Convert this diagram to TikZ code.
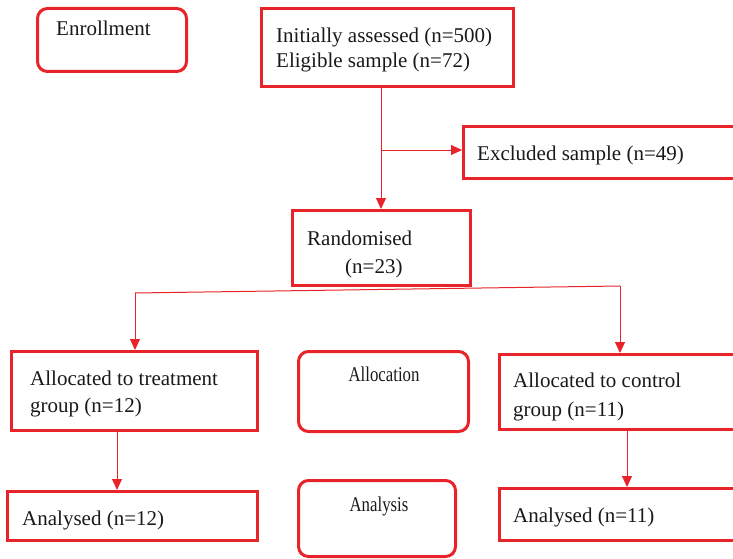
\documentclass[tikz,border=0pt]{standalone}
\usepackage{fontspec}
\setmainfont{Liberation Serif}
\newfontfamily\narrowfont{Liberation Serif}[FakeStretch=0.8]
\usetikzlibrary{arrows.meta}
\definecolor{flowred}{RGB}{232,36,42}
\tikzset{
	box/.style={draw=flowred, line width=3pt, inner sep=0pt},
	roundbox/.style={box, rounded corners=10pt},
	txt/.style={anchor=base west, inner sep=0pt, text=black!90, font=\fontsize{21}{25}\selectfont},
	midtxt/.style={txt, anchor=base, font=\narrowfont\fontsize{21}{25}\selectfont},
	conn/.style={draw=flowred, line width=1pt, -{Triangle[length=11pt,width=10pt]}},
}

\begin{document}
\begin{tikzpicture}[x=1pt, y=-1pt]
	\useasboundingbox (0,0) rectangle (733,559);
	% boxes
	\node[roundbox, minimum width=149pt, minimum height=63pt] (enroll) at (112,40) {};
	\node[box, minimum width=252pt, minimum height=78pt] (assess) at (387.5,47.5) {};
	\node[box, minimum width=277pt, minimum height=52pt] (excl) at (602,152.5) {};
	\node[box, minimum width=178pt, minimum height=75pt] (rand) at (381.5,248) {};
	\node[box, minimum width=246pt, minimum height=79pt] (treat) at (134.5,391) {};
	\node[roundbox, minimum width=170pt, minimum height=80pt] (alloc) at (383.5,391.5) {};
	\node[box, minimum width=241pt, minimum height=75pt] (ctrl) at (620,392) {};
	\node[box, minimum width=250pt, minimum height=49pt] (anaT) at (132.5,516) {};
	\node[roundbox, minimum width=157pt, minimum height=76pt] (anlys) at (377,518.5) {};
	\node[box, minimum width=241pt, minimum height=52pt] (anaC) at (620,514.5) {};
	% texts
	\node[txt] (enroll-t) at (56,36) {Enrollment};
	\node[txt] (assess-t1) at (276,43) {Initially assessed (n=500)};
	\node[txt] (assess-t2) at (276,68) {Eligible sample (n=72)};
	\node[txt] (excl-t) at (477,160) {Excluded sample (n=49)};
	\node[txt] (rand-t1) at (307,245) {Randomised};
	\node[txt] (rand-t2) at (345,273) {(n=23)};
	\node[txt] (treat-t1) at (30,385) {Allocated to treatment};
	\node[txt] (treat-t2) at (30,412) {group (n=12)};
	\node[midtxt] (alloc-t) at (384,381) {Allocation};
	\node[txt] (ctrl-t1) at (513,387) {Allocated to control};
	\node[txt] (ctrl-t2) at (513,416) {group (n=11)};
	\node[txt] (anaT-t) at (22,525) {Analysed (n=12)};
	\node[midtxt] (anlys-t) at (379,511) {Analysis};
	\node[txt] (anaC-t) at (513,522) {Analysed (n=11)};
	% connectors
	\coordinate (branch) at (381,150);
	\coordinate (splitL) at (135,293);
	\coordinate (splitR) at (620,286);
	\coordinate (downL) at (117,0);
	\coordinate (downR) at (627,0);
	\draw[conn] (branch |- assess.south) -- (branch |- rand.north);
	\draw[conn] (branch) -- (branch -| excl.west);
	\draw[flowred, line width=1pt] (splitL) -- (splitR);
	\draw[conn] (splitL) -- (splitL |- treat.north);
	\draw[conn] (splitR) -- (splitR |- ctrl.north);
	\draw[conn] (downL |- treat.south) -- (downL |- anaT.north);
	\draw[conn] (downR |- ctrl.south) -- (downR |- anaC.north);
\end{tikzpicture}
\end{document}
